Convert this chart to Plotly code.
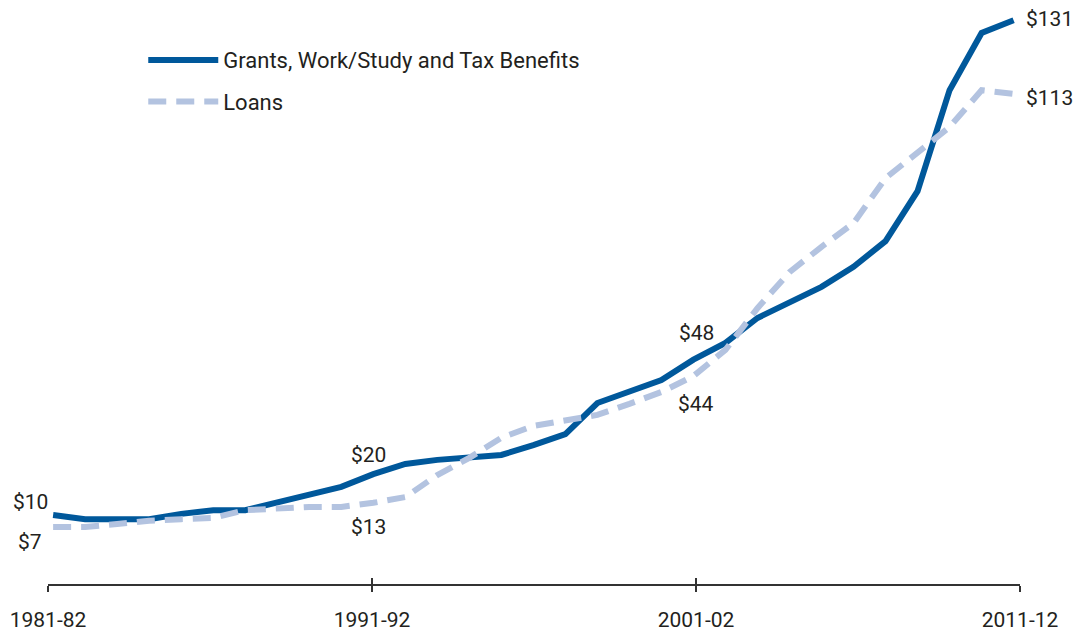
import plotly.graph_objects as go

# ---- data ----
years = [f"{y}-{str(y + 1)[-2:]}" for y in range(1981, 2012)]
grants = [10, 9.0, 9.0, 9.0, 10.3, 11.2, 11.2, 13.0, 14.9, 16.9,
          20, 22.5, 23.5, 24.2, 24.7, 27.1, 29.8, 37.4, 40.1, 43.0,
          48, 52.1, 58.2, 61.9, 65.8, 70.7, 77.0, 89.2, 113.9, 127.9, 131]
loans = [7.1, 7.1, 7.8, 8.6, 9.0, 9.3, 11.2, 11.7, 12.0, 12.0,
         13.0, 14.4, 19.8, 24.0, 28.9, 31.8, 33.0, 34.5, 37.2, 40.1,
         44, 50.4, 60.6, 69.4, 75.6, 81.4, 92.4, 98.8, 104.9, 113.9, 113]
tick_labels = ["1981-82", "1991-92", "2001-02", "2011-12"]

FONT = "Roboto, Arial, sans-serif"
TXT = "#231f20"
DARK = "#00589b"
LIGHT = "#b3c3e0"

idx = list(range(len(years)))

fig = go.Figure()
fig.add_trace(go.Scatter(
    x=idx, y=grants, mode="lines", name="Grants, Work/Study and Tax Benefits",
    legendgroup="grants",
    line=dict(color=DARK, width=6), hoverinfo="text",
    text=[f"{y}: ${v:.0f}" for y, v in zip(years, grants)]))
fig.add_trace(go.Scatter(
    x=idx, y=loans, mode="lines", name="Loans", legendgroup="loans",
    line=dict(color=LIGHT, width=6, dash="18px,10px"), hoverinfo="text",
    text=[f"{y}: ${v:.0f}" for y, v in zip(years, loans)]))
# dummy trace so the overlay axis (upward tick halves) gets drawn
fig.add_trace(go.Scatter(x=[], y=[], xaxis="x2", showlegend=False))

# x axis spans slightly past the first/last data point, ticks every ten years
x0, x1 = -0.16, 30.2
tickvals = [x0 + k * (x1 - x0) / 3 for k in range(4)]

axis_common = dict(range=[x0, x1], tickvals=tickvals, showgrid=False,
                   zeroline=False, ticklen=6, tickwidth=1.5, tickcolor="#333",
                   automargin=False)

fig.update_layout(
    width=1076, height=632,
    margin=dict(l=48, r=56, t=8, b=48),
    paper_bgcolor="white", plot_bgcolor="white",
    font=dict(family=FONT, size=21, color=TXT),
    xaxis=dict(**axis_common, ticktext=tick_labels, ticks="outside",
               showline=True, linecolor="#333", linewidth=1.5,
               ticklabelstandoff=10,
               tickfont=dict(family=FONT, size=21, color=TXT)),
    xaxis2=dict(**axis_common, overlaying="x", anchor="y", side="bottom",
                ticks="inside", showticklabels=False, showline=False),
    yaxis=dict(range=[-6.85, 134], visible=False, automargin=False),
    legend=dict(x=0.098, y=0.946, xanchor="left", yanchor="top",
                itemwidth=70, tracegroupgap=10,
                font=dict(family=FONT, size=22, color=TXT),
                bgcolor="rgba(0,0,0,0)"),
    showlegend=True,
)

# value labels at the start, 1991-92, 2001-02 and the end
labels = [
    (0, grants[0], -23, 13), (0, loans[0], -23, -15),
    (10, grants[10], -5, 19), (10, loans[10], -5, -24),
    (20, grants[20], 3, 27), (20, loans[20], 3, -28),
    (30, grants[30], 36, 1), (30, loans[30], 36, -4),
]
for i, v, dx, dy in labels:
    fig.add_annotation(x=i, y=v, text=f"${v:.0f}", showarrow=False,
                       xshift=dx, yshift=dy,
                       font=dict(family=FONT, size=21, color=TXT))

# drop the default 8px body margin so the 1076x632 figure fills the window
fig.write_html("out.html", config={"displayModeBar": False},
               post_script="document.body.style.margin='0';")
